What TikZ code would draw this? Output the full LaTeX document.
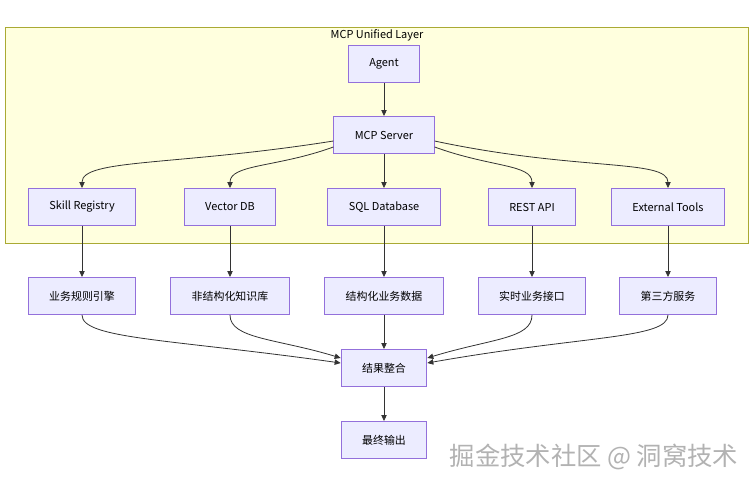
\documentclass[tikz,border=0pt]{standalone}
\usepackage{fontspec}
\setmainfont{Noto Sans CJK SC}
\usetikzlibrary{arrows.meta}
\definecolor{node fill}{HTML}{ECECFF}
\definecolor{node line}{HTML}{9370DB}
\definecolor{layer fill}{HTML}{FFFFDE}
\definecolor{layer line}{HTML}{AAAA33}
\definecolor{edge gray}{HTML}{333333}

\begin{document}
\begin{tikzpicture}[x=0.75pt, y=-0.75pt,
		box/.style={draw=node line, fill=node fill, line width=0.7pt,
			font=\fontsize{8.2}{10}\selectfont, minimum height=27.75pt, inner xsep=15.75pt},
		link/.style={draw=edge gray, line width=0.6pt, -{Triangle[length=4.5pt, width=4pt]}}]
			\useasboundingbox (0, 0) rectangle (754, 487);
			% unified layer
			\draw[layer line, fill=layer fill, line width=0.7pt] (5, 27) rectangle (748, 243);
			\node[font=\fontsize{8.2}{10}\selectfont] (title) at (377, 35) {MCP Unified Layer};
			\node[box] (agent) at (384, 64) {Agent};
			\node[box] (server) at (384, 135) {MCP Server};
			\node[box] (skill) at (82, 207) {Skill Registry};
			\node[box] (vecdb) at (230, 207) {Vector DB};
			\node[box] (sqldb) at (384, 207) {SQL Database};
			\node[box] (rest) at (532, 207) {REST API};
			\node[box] (ext) at (668, 207) {External Tools};
			% sources
			\node[box] (rules) at (82, 296) {业务规则引擎};
			\node[box] (kb) at (230, 296) {非结构化知识库};
			\node[box] (biz) at (384, 296) {结构化业务数据};
			\node[box] (api) at (532, 296) {实时业务接口};
			\node[box] (third) at (668, 296) {第三方服务};
			\node[box] (merge) at (384, 368) {结果整合};
			\node[box] (out) at (384, 440) {最终输出};
			% edges
			\draw[link] (agent) -- (server);
			\draw[link] ([yshift=-4.5pt]server.west) to[out=189, in=90, out distance=120pt, in distance=22pt] (skill.north);
			\draw[link] ([yshift=-9pt]server.west) to[out=200, in=90, out distance=45pt, in distance=18pt] (vecdb.north);
			\draw[link] (server) -- (sqldb);
			\draw[link] ([yshift=-9pt]server.east) to[out=-20, in=90, out distance=45pt, in distance=18pt] (rest.north);
			\draw[link] ([yshift=-4.5pt]server.east) to[out=-12, in=90, out distance=110pt, in distance=22pt] (ext.north);
			\draw[link] (skill) -- (rules);
			\draw[link] (vecdb) -- (kb);
			\draw[link] (sqldb) -- (biz);
			\draw[link] (rest) -- (api);
			\draw[link] (ext) -- (third);
			\draw[link] (rules.south) to[out=-90, in=172, out distance=18pt, in distance=130pt] ([yshift=3.75pt]merge.west);
			\draw[link] (kb.south) to[out=-90, in=163, out distance=18pt, in distance=50pt] ([yshift=7.5pt]merge.west);
			\draw[link] (biz) -- (merge);
			\draw[link] (api.south) to[out=-90, in=17, out distance=18pt, in distance=50pt] ([yshift=7.5pt]merge.east);
			\draw[link] (third.south) to[out=-90, in=10, out distance=18pt, in distance=120pt] ([yshift=3.75pt]merge.east);
			\draw[link] (merge) -- (out);
			% watermark
			\node[text=gray!60, font=\fontsize{19}{21}\selectfont] (mark) at (594, 457) {掘金技术社区 @ 洞窝技术};
		\end{tikzpicture}
\end{document}
